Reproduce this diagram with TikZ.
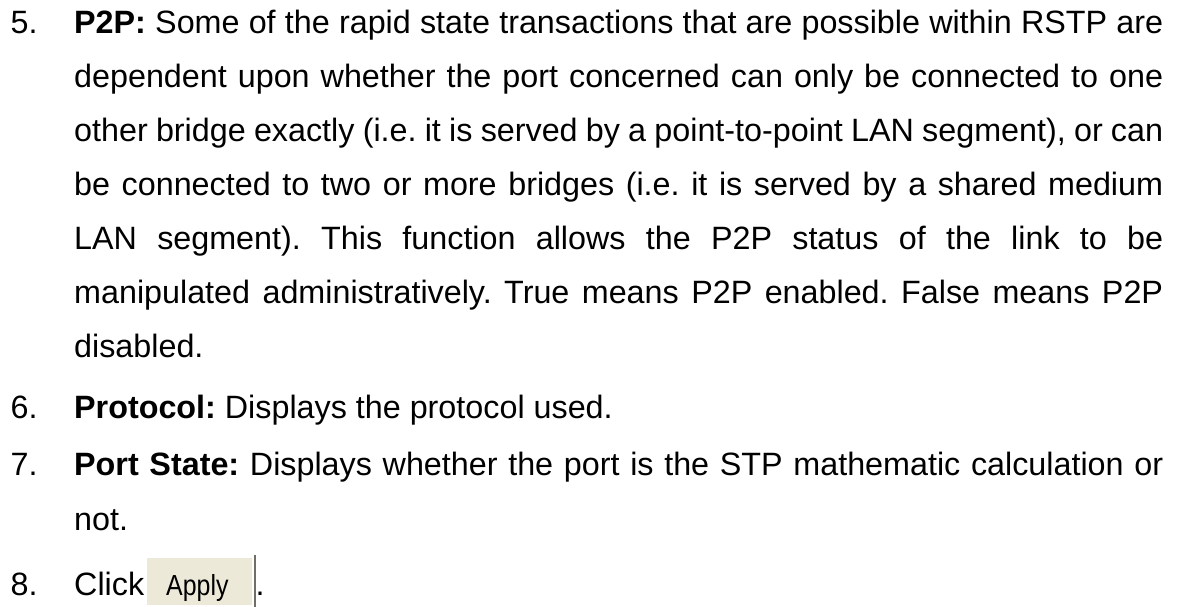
\documentclass[tikz,border=0pt]{standalone}
\usepackage{fontspec}
\setmainfont{Liberation Sans}
\frenchspacing
\definecolor{btnfill}{HTML}{ECE9D8}
\definecolor{btnbar}{HTML}{716F64}
\newcommand\mainsz{\fontsize{32.3}{38}\selectfont}
\newcommand\btnsz{\fontsize{29}{34}\selectfont}
\newcommand\jline[1]{\makebox[1089pt][s]{#1}}
\begin{document}
\begin{tikzpicture}[x=1pt,y=-1pt,
  txt/.style={anchor=base west, inner sep=0pt, font=\mainsz},
  numlbl/.style={anchor=base west, inner sep=0pt, font=\mainsz},
  btnbox/.style={anchor=north west, fill=btnfill, inner sep=0pt, minimum width=105pt, minimum height=47pt},
  btntxt/.style={anchor=base west, inner sep=0pt, font=\btnsz}]
\useasboundingbox[fill=white] (0,0) rectangle (1178,606);
% item 5
\node[numlbl] (n5) at (10.5,33) {5.};
\node[txt] (l1) at (74,33) {\jline{\textbf{P2P:} Some of the rapid state transactions that are possible within RSTP are}};
\node[txt] (l2) at (74,87) {\jline{dependent upon whether the port concerned can only be connected to one}};
\node[txt] (l3) at (74,141) {\jline{other bridge exactly (i.e. it is served by a point-to-point LAN segment), or can}};
\node[txt] (l4) at (74,195) {\jline{be connected to two or more bridges (i.e. it is served by a shared medium}};
\node[txt] (l5) at (74,249) {\jline{LAN segment). This function allows the P2P status of the link to be}};
\node[txt] (l6) at (74,303) {\jline{manipulated administratively. True means P2P enabled. False means P2P}};
\node[txt] (l7) at (74,357) {disabled.};
% item 6
\node[numlbl] (n6) at (10.5,418) {6.};
\node[txt] (l8) at (74,418) {\textbf{Protocol:} Displays the protocol used.};
% item 7
\node[numlbl] (n7) at (10.5,475) {7.};
\node[txt] (l9) at (74,475) {\jline{\textbf{Port State:} Displays whether the port is the STP mathematic calculation or}};
\node[txt] (l10) at (74,530) {not.};
% item 8
\node[numlbl] (n8) at (10.5,595) {8.};
\node[txt] (click) at (74,595) {Click};
\node[btnbox] (apply) at (147,558) {};
\node[btntxt] (applytxt) at (166,595) {\scalebox{0.86}[1]{Apply}};
\coordinate (bartop) at (255,555);
\coordinate (barbot) at (255,607);
\draw[btnbar, line width=2pt] (bartop) -- (barbot);
\node[txt] (dot) at (255.5,595) {.};
\end{tikzpicture}
\end{document}
